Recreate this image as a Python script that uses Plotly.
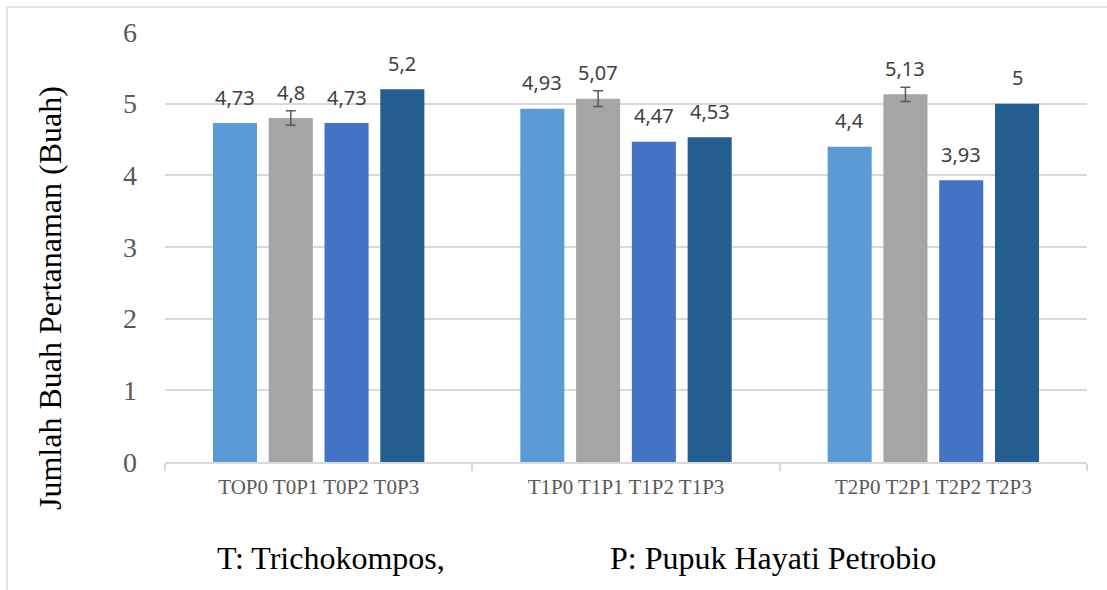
import plotly.graph_objects as go

groups = ["TOP0 T0P1 T0P2 T0P3", "T1P0 T1P1 T1P2 T1P3", "T2P0 T2P1 T2P2 T2P3"]
series_names = ["P0", "P1", "P2", "P3"]
values_P0 = [4.73, 4.93, 4.40]
values_P1 = [4.80, 5.07, 5.13]
values_P2 = [4.73, 4.47, 3.93]
values_P3 = [5.20, 4.53, 5.00]
errors_P1 = [0.10, 0.11, 0.10]
colors = ["#5B9BD5", "#A5A5A5", "#4472C4", "#255E91"]

all_values = [values_P0, values_P1, values_P2, values_P3]
all_errors = [None, errors_P1, None, None]

W, H = 1107, 590
ML, MR, MT, MB = 165, 20, 32, 128
BARGAP = 0.274
GROUPGAP = 0.21

fig = go.Figure()
for k, (name, vals, err, col) in enumerate(zip(series_names, all_values, all_errors, colors)):
    tr = dict(x=groups, y=vals, name=name, marker=dict(color=col, line=dict(width=0)))
    if err is not None:
        tr["error_y"] = dict(type="data", array=err, visible=True, color="#595959", thickness=1.5, width=5)
    fig.add_trace(go.Bar(**tr))

def fmt(v):
    s = ("%.2f" % v).rstrip("0").rstrip(".")
    return s.replace(".", ",")

slot = (1 - BARGAP) / 4
annotations = []
for k, vals in enumerate(all_values):
    for i, v in enumerate(vals):
        xoff = -(1 - BARGAP) / 2 + slot * (k + 0.5)
        annotations.append(dict(x=i + xoff, y=v, xref="x", yref="y", text=fmt(v), showarrow=False,
                                yshift=26, yanchor="middle", xanchor="center",
                                font=dict(family="Noto Sans", size=20, color="#404040")))

pw = W - ML - MR
ph = H - MT - MB
annotations.append(dict(x=(331 - ML) / pw, y=(H - MB - 558) / ph, xref="paper", yref="paper",
                        text="T: Trichokompos,", showarrow=False, xanchor="center", yanchor="middle",
                        font=dict(family="Liberation Serif", size=32, color="#000000")))
annotations.append(dict(x=(773 - ML) / pw, y=(H - MB - 558) / ph, xref="paper", yref="paper",
                        text="P: Pupuk Hayati Petrobio", showarrow=False, xanchor="center", yanchor="middle",
                        font=dict(family="Liberation Serif", size=32, color="#000000")))
annotations.append(dict(x=(50 - ML) / pw, y=(H - MB - 298) / ph, xref="paper", yref="paper",
                        text="Jumlah Buah Pertanaman (Buah)", showarrow=False, textangle=-90,
                        xanchor="center", yanchor="middle",
                        font=dict(family="Liberation Serif", size=32, color="#000000")))

shapes = [
    dict(type="line", xref="paper", yref="paper", x0=(7 - ML) / pw, x1=(1120 - ML) / pw,
         y0=(H - MB - 7) / ph, y1=(H - MB - 7) / ph, line=dict(color="#D9D9D9", width=1.5)),
    dict(type="line", xref="paper", yref="paper", x0=(7 - ML) / pw, x1=(7 - ML) / pw,
         y0=(H - MB - 7) / ph, y1=(H - MB - 600) / ph, line=dict(color="#D9D9D9", width=1.5)),
]

fig.update_layout(
    width=W, height=H,
    margin=dict(l=ML, r=MR, t=MT, b=MB),
    paper_bgcolor="white", plot_bgcolor="white",
    barmode="group", bargap=BARGAP, bargroupgap=GROUPGAP,
    showlegend=False,
    annotations=annotations,
    shapes=shapes,
    xaxis=dict(type="category", showline=True, linecolor="#D9D9D9", linewidth=1.5,
               ticks="outside", tickson="boundaries", ticklen=7, tickcolor="#D9D9D9", tickwidth=1.5,
               showgrid=False, ticklabelstandoff=5,
               tickfont=dict(family="Liberation Serif", size=21, color="#595959")),
    yaxis=dict(range=[0, 6], dtick=1, showgrid=True, gridcolor="#D9D9D9", gridwidth=1.5,
               zeroline=False, showline=False, ticks="", ticklabelstandoff=27,
               tickfont=dict(family="Liberation Serif", size=28, color="#595959")),
)

fig.write_html("out.html", config={"displayModeBar": False},
               post_script="document.body.style.margin='0';document.body.style.overflow='hidden';")
